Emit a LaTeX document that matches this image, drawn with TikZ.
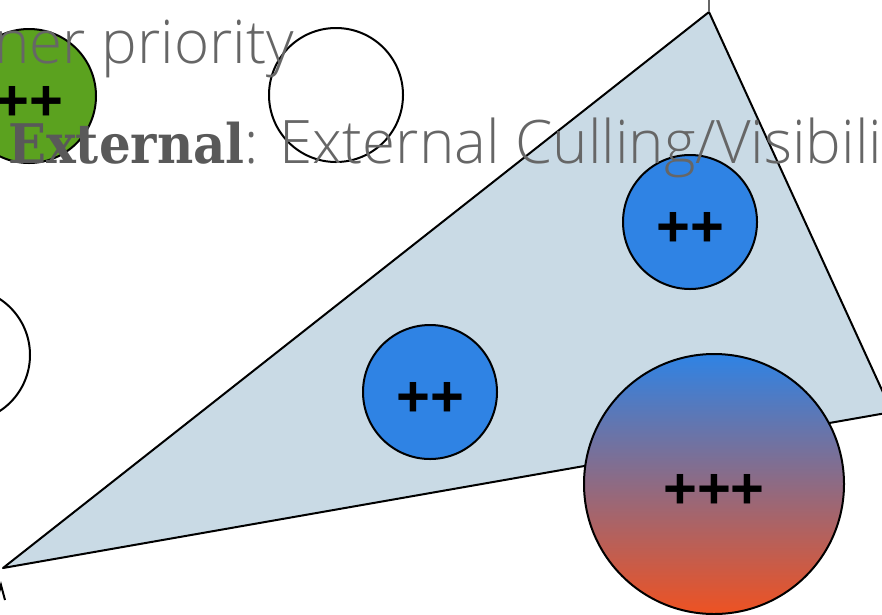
\documentclass[tikz,border=0pt]{standalone}
\usepackage{fontspec}
\usepackage{graphicx}
\usepackage{tikz}
\usetikzlibrary{positioning,calc}
\newfontfamily\lightsans{Open Sans Light}
\newfontfamily\heavyserif{DejaVu Serif}[BoldFont={DejaVu Serif Bold}]
\newfontfamily\plusfont{Liberation Sans}[BoldFont={Liberation Sans Bold}]
\definecolor{CullGreen}{HTML}{5BA21F}
\definecolor{CullBlue}{HTML}{2F83E4}
\definecolor{CullOrange}{HTML}{EE5222}
\definecolor{CullFrustum}{HTML}{C9DAE5}
\definecolor{CullText}{HTML}{666666}
\definecolor{CullHeavy}{HTML}{595959}
\tikzset{
  ball/.style={circle,draw=black,line width=2pt,minimum size=134pt,inner sep=0pt,
    text height=48pt,text depth=0pt,
    font=\plusfont\bfseries\fontsize{58}{58}\selectfont},
  hidden/.style={ball,fill=white},
  visible/.style={ball,fill=CullBlue},
  near/.style={ball,fill=CullGreen},
  big/.style={ball,minimum size=260pt,top color=CullBlue,bottom color=CullOrange},
  frustum/.style={draw=black,line width=2pt,fill=CullFrustum,line join=round},
  caption/.style={anchor=base west,inner sep=0pt,text=CullText,
    font=\lightsans\fontsize{60}{60}\selectfont}
}
\begin{document}
\begin{tikzpicture}[x=1pt,y=-1pt]
  \useasboundingbox (0,0) rectangle (882,614);
  \clip (0,0) rectangle (882,614);
  % view frustum
  \coordinate (eye) at (3,568);
  \coordinate (far) at (709,12);
  \coordinate (side) at (892,412);
  \draw[frustum] (eye) -- (far) -- (side) -- cycle;
  \coordinate (tick) at (709,-4);
  \draw[CullText,line width=2pt] (tick) -- (far);
  \coordinate (mark) at (1,585);
  \draw[black,line width=2pt] ($(mark)+(-4,15)$) -- (mark) -- ($(mark)+(4,15)$);
  % objects
  \node[near] (g1) at (29,96) {++};
  \node[hidden] (w1) at (336,95) {};
  \node[hidden] (w2) at (-37,355) {};
  \node[visible] (b1) at (690,222) {++};
  \node[visible] (b2) at (430,392) {++};
  \node[big] (c1) at (714,484) {+++};
  % labels
  \node[caption] (prio) at (-6,63) {ner priority};
  \node[caption] (ext) at (8,163)
    {\textcolor{CullHeavy}{\scalebox{0.96}[1.05]{\heavyserif\bfseries\fontsize{52}{52}\selectfont External}}: External Culling/Visibili};
\end{tikzpicture}
\end{document}
